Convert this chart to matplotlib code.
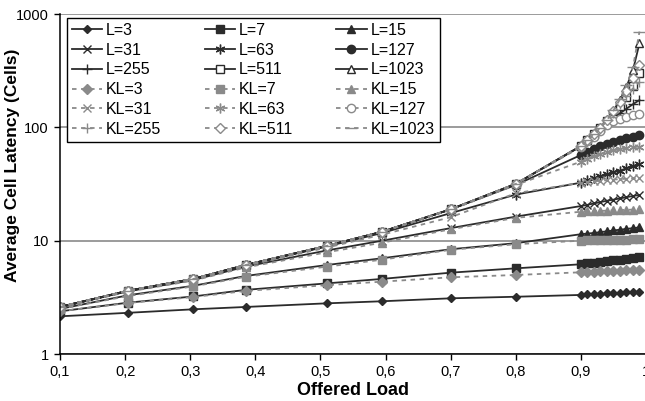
import matplotlib
matplotlib.use("Agg")
import matplotlib.pyplot as plt
from matplotlib.ticker import FixedLocator, NullLocator

plt.rcParams['font.family'] = ['Liberation Sans', 'DejaVu Sans']

# offered load (x) values of the simulation points
load = [0.1, 0.205, 0.305, 0.385, 0.51, 0.595, 0.7, 0.8,
        0.9, 0.91, 0.92, 0.93, 0.94, 0.95, 0.96, 0.97, 0.98, 0.99]

# average cell latency, one list per buffer length
L3 = [2.15, 2.31, 2.48, 2.60, 2.80, 2.92, 3.10, 3.20,
      3.32, 3.35, 3.37, 3.39, 3.42, 3.44, 3.47, 3.50, 3.52, 3.55]
L7 = [2.38, 2.84, 3.22, 3.68, 4.2, 4.6, 5.22, 5.7,
      6.19, 6.3, 6.4, 6.5, 6.6, 6.7, 6.8, 6.9, 7.0, 7.13]
L15 = [2.5, 3.3, 4.0, 4.88, 6.1, 7.0, 8.4, 9.5,
       11.4, 11.55, 11.7, 11.9, 12.1, 12.3, 12.5, 12.7, 12.9, 13.1]
L31 = [2.6, 3.58, 4.5, 5.9, 8.2, 10.0, 12.9, 16.3,
       20.2, 20.7, 21.3, 21.9, 22.5, 23.0, 23.6, 24.2, 24.8, 25.3]
L63 = [2.6, 3.6, 4.58, 6.05, 8.9, 11.7, 17.5, 25.5,
       32.5, 34.0, 35.5, 37.0, 38.5, 40.0, 41.5, 43.5, 45.5, 47.5]
L127 = [2.6, 3.62, 4.6, 6.1, 9.0, 12.0, 18.9, 31.0,
        57.0, 61.0, 64.5, 68.0, 71.0, 74.0, 77.0, 80.0, 83.0, 85.7]
L255 = [2.6, 3.62, 4.6, 6.1, 9.0, 12.0, 18.9, 31.7,
        68.0, 76.0, 85.0, 96.0, 108, 120, 133, 146, 160, 174]
L511 = [2.6, 3.62, 4.6, 6.1, 9.0, 12.0, 18.9, 31.7,
        68.5, 77.0, 87.0, 99.0, 114, 132, 155, 185, 230, 300]
L1023 = [2.6, 3.62, 4.6, 6.1, 9.0, 12.0, 18.9, 31.7,
         68.5, 77.0, 87.0, 99.0, 116, 140, 174, 228, 320, 552]

KL3 = [2.38, 2.82, 3.18, 3.6, 4.05, 4.35, 4.75, 4.98,
       5.26, 5.29, 5.32, 5.35, 5.38, 5.41, 5.44, 5.46, 5.49, 5.51]
KL7 = [2.5, 3.25, 3.95, 4.8, 5.9, 6.8, 8.3, 9.3,
       10.0, 10.05, 10.1, 10.12, 10.15, 10.18, 10.2, 10.23, 10.27, 10.3]
KL15 = [2.58, 3.55, 4.45, 5.8, 7.9, 9.6, 12.6, 15.9,
        18.0, 18.1, 18.2, 18.3, 18.4, 18.5, 18.6, 18.7, 18.8, 18.9]
KL31 = [2.6, 3.6, 4.55, 6.0, 8.7, 11.3, 16.1, 26.2,
        32.5, 33.0, 33.4, 33.8, 34.2, 34.6, 34.9, 35.2, 35.4, 35.6]
KL63 = [2.6, 3.62, 4.6, 6.1, 9.0, 12.0, 18.7, 31.0,
        49.8, 53.0, 56.0, 58.5, 60.5, 62.5, 64.0, 65.5, 66.7, 67.6]
KL127 = [2.6, 3.62, 4.6, 6.1, 9.0, 12.0, 18.9, 31.7,
         67.0, 75.0, 83.0, 92.0, 105, 113, 119, 124, 128, 131]
KL255 = [2.6, 3.62, 4.6, 6.1, 9.0, 12.0, 18.9, 31.7,
         68.5, 77.0, 87.0, 99.0, 115, 135, 160, 190, 220, 250]
KL511 = [2.6, 3.62, 4.6, 6.1, 9.0, 12.0, 18.9, 31.7,
         68.5, 77.0, 87.0, 99.0, 116, 138, 168, 210, 270, 355]
KL1023 = [2.6, 3.62, 4.6, 6.1, 9.0, 12.0, 18.9, 31.7,
          68.5, 77.0, 87.0, 99.0, 116, 141, 177, 235, 340, 700]

L_series = [("L=3", L3), ("L=7", L7), ("L=15", L15), ("L=31", L31), ("L=63", L63),
            ("L=127", L127), ("L=255", L255), ("L=511", L511), ("L=1023", L1023)]
KL_series = [("KL=3", KL3), ("KL=7", KL7), ("KL=15", KL15), ("KL=31", KL31), ("KL=63", KL63),
             ("KL=127", KL127), ("KL=255", KL255), ("KL=511", KL511), ("KL=1023", KL1023)]

x_ticks = [0.1, 0.2, 0.3, 0.4, 0.5, 0.6, 0.7, 0.8, 0.9, 1.0]
x_labels = ["0,1", "0,2", "0,3", "0,4", "0,5", "0,6", "0,7", "0,8", "0,9", "1"]
y_ticks = [1, 10, 100, 1000]
y_labels = ["1", "10", "100", "1000"]

black = "#2b2b2b"
gray = "#8a8a8a"
asterisk = (6, 2, 0)
# marker, size, filled?
L_marks = [("D", 4.5, True), ("s", 5.5, True), ("^", 5.5, True), ("x", 5.5, True),
           (asterisk, 7, True), ("o", 6, True), ("+", 7, True), ("s", 6, False), ("^", 6, False)]
KL_marks = [("D", 5, True), ("s", 6, True), ("^", 6, True), ("x", 5.5, True),
            (asterisk, 7, True), ("o", 6, False), ("+", 7, True), ("D", 5.5, False), ("_", 8, True)]

fig = plt.figure(figsize=(6.45, 4.01), dpi=100)
ax = fig.add_axes([60 / 645, 1 - 354 / 401, 586 / 645, 340 / 401])

handles = []
for (name, vals), (m, ms, filled) in zip(L_series, L_marks):
    h, = ax.plot(load, vals, color=black, lw=1.3, marker=m, ms=ms,
                 mfc=black if filled else "white", mec=black, mew=1.0, label=name)
    handles.append(h)
for (name, vals), (m, ms, filled) in zip(KL_series, KL_marks):
    h, = ax.plot(load, vals, color=gray, lw=1.3, ls=(0, (2.5, 2.5)), marker=m, ms=ms,
                 mfc=gray if filled else "white", mec=gray, mew=1.0, label=name)
    handles.append(h)

ax.set_yscale("log")
ax.set_xlim(0.1, 1.0)
ax.set_ylim(1, 1000)
ax.xaxis.set_major_locator(FixedLocator(x_ticks))
ax.set_xticklabels(x_labels)
ax.yaxis.set_major_locator(FixedLocator(y_ticks))
ax.yaxis.set_minor_locator(NullLocator())
ax.set_yticklabels(y_labels)
ax.tick_params(direction="out", length=4, width=1, labelsize=10.5, colors="black", pad=4)

ax.yaxis.grid(True, which="major", color="#808080", lw=1.1)
ax.set_axisbelow(True)
ax.spines["top"].set_visible(False)
ax.spines["right"].set_visible(False)
ax.spines["left"].set_linewidth(1.1)
ax.spines["bottom"].set_linewidth(1.1)

ax.set_xlabel("Offered Load", fontsize=13, fontweight="bold", labelpad=2)
ax.set_ylabel("Average Cell Latency (Cells)", fontsize=12.5, fontweight="bold")
ax.yaxis.set_label_coords(-0.068, 0.555)

# legend filled row by row like the original
order = [r * 3 + c for c in range(3) for r in range(6)]
leg = ax.legend([handles[i] for i in order], [handles[i].get_label() for i in order],
                ncol=3, loc="upper left", bbox_to_anchor=(0.012, 0.988),
                fontsize=11.5, handlelength=1.9, handletextpad=0.25, columnspacing=2.7,
                labelspacing=0.3, borderpad=0.3, borderaxespad=0, fancybox=False,
                framealpha=1, edgecolor="black")
leg.get_frame().set_linewidth(1.0)

fig.savefig("out.png", dpi=100)
